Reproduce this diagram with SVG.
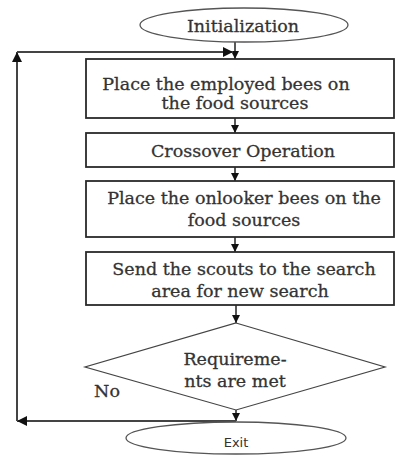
<svg xmlns="http://www.w3.org/2000/svg" width="396" height="455" viewBox="0 0 396 455">
  <defs>
    <style>
      .shape { fill: #ffffff; stroke: #2a2a2a; stroke-width: 1.8; }
      .term { fill: #ffffff; stroke: #555555; stroke-width: 1.3; }
      .lbl { font-family: "DejaVu Serif", "Liberation Serif", serif; font-size: 17.5px; fill: #333333; stroke: #333333; stroke-width: 0.3; text-anchor: middle; }
      .sans { font-family: "DejaVu Sans", "Liberation Sans", sans-serif; font-size: 13px; fill: #333333; text-anchor: middle; }
      .conn { fill: none; stroke: #222222; stroke-width: 1.5; }
      .loop { fill: none; stroke: #444444; stroke-width: 2; }
    </style>
    <marker id="arr" viewBox="0 0 10 10" refX="10" refY="5" markerWidth="8" markerHeight="8" markerUnits="userSpaceOnUse" orient="auto">
      <path d="M0,0 L10,5 L0,10 Z" fill="#111111"/>
    </marker>
    <marker id="arrL" viewBox="0 0 10 10" refX="10" refY="5" markerWidth="10" markerHeight="10" markerUnits="userSpaceOnUse" orient="auto">
      <path d="M0,0 L10,5 L0,10 Z" fill="#111111"/>
    </marker>
  </defs>

  <g id="connectors">
    <path class="conn" d="M235,42 V59" marker-end="url(#arr)"/>
    <path class="conn" d="M235,118 V133" marker-end="url(#arr)"/>
    <path class="conn" d="M235,167 V181" marker-end="url(#arr)"/>
    <path class="conn" d="M235,237 V252" marker-end="url(#arr)"/>
    <path class="conn" d="M236,305 V323" marker-end="url(#arr)"/>
    <path class="conn" d="M236,410 V421" marker-end="url(#arr)"/>
    <path class="loop" d="M236,421 H17" marker-end="url(#arrL)"/>
    <path class="loop" d="M17,421 V52" marker-end="url(#arrL)"/>
    <path class="loop" d="M17,52 H233" marker-end="url(#arrL)"/>
  </g>

  <g id="initialization">
    <ellipse class="term" cx="244" cy="25" rx="104" ry="17"/>
    <text class="lbl" x="243" y="32">Initialization</text>
  </g>

  <g id="employed">
    <rect class="shape" x="86" y="59" width="308" height="59"/>
    <text class="lbl" x="226" y="90">Place the employed bees on</text>
    <text class="lbl" x="235" y="109">the food sources</text>
  </g>

  <g id="crossover">
    <rect class="shape" x="86" y="133" width="308" height="34"/>
    <text class="lbl" x="243" y="157">Crossover Operation</text>
  </g>

  <g id="onlooker">
    <rect class="shape" x="86" y="181" width="308" height="56"/>
    <text class="lbl" x="244" y="204">Place the onlooker bees on the</text>
    <text class="lbl" x="244" y="226">food sources</text>
  </g>

  <g id="scouts">
    <rect class="shape" x="86" y="252" width="308" height="53"/>
    <text class="lbl" x="244" y="275">Send the scouts to the search</text>
    <text class="lbl" x="240" y="297">area for new search</text>
  </g>

  <g id="requirements">
    <polygon class="shape" points="236,323 385,367 236,410 85,367" style="stroke:#444444;stroke-width:1.2"/>
    <text class="lbl" x="235" y="365">Requireme-</text>
    <text class="lbl" x="235" y="387">nts are met</text>
  </g>

  <g id="no-label">
    <text class="lbl" x="107" y="397">No</text>
  </g>

  <g id="exit">
    <ellipse class="term" cx="236" cy="438" rx="110" ry="16"/>
    <text class="sans" x="236" y="447">Exit</text>
  </g>
</svg>
